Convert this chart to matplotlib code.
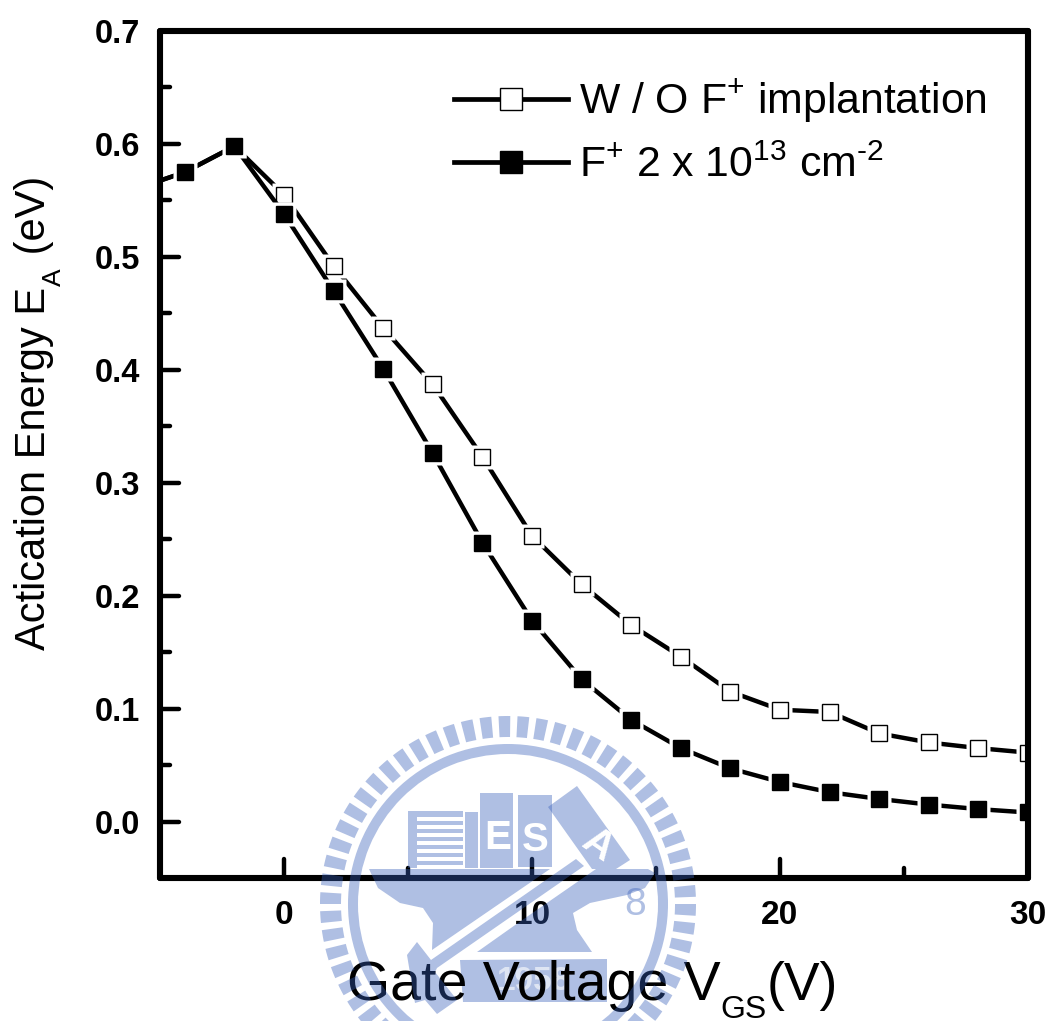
import matplotlib
matplotlib.use('Agg')
import numpy as np
import matplotlib.pyplot as plt
from matplotlib.lines import Line2D
from matplotlib.markers import MarkerStyle, TICKRIGHT, TICKUP
from matplotlib.patches import Polygon, Rectangle, Wedge
from matplotlib.ticker import MultipleLocator

plt.rcParams['font.family'] = ['Liberation Sans', 'DejaVu Sans']
plt.rcParams['mathtext.fontset'] = 'custom'
plt.rcParams['mathtext.rm'] = 'Liberation Sans'
plt.rcParams['mathtext.default'] = 'rm'

W, H = 1048, 1021

vgs = [-6, -4, -2, 0, 2, 4, 6, 8, 10, 12, 14, 16, 18, 20, 22, 24, 26, 28, 30]
ea_no_implant = [0.560, 0.575, 0.598, 0.555, 0.492, 0.437, 0.387, 0.323, 0.253, 0.210,
                 0.174, 0.146, 0.115, 0.099, 0.097, 0.078, 0.070, 0.065, 0.061]
ea_implant = [0.560, 0.575, 0.598, 0.538, 0.470, 0.401, 0.326, 0.247, 0.178, 0.126,
              0.090, 0.065, 0.047, 0.035, 0.026, 0.020, 0.015, 0.011, 0.008]
label_no_implant = r'W / O F$^{+}$ implantation'
label_implant = r'F$^{+}$ 2 x 10$^{13}$ cm$^{\text{-}2}$'

fig = plt.figure(figsize=(W / 100, H / 100), dpi=100)
ax = fig.add_axes([160 / W, 1 - 878 / H, (1028 - 160) / W, (878 - 31) / H])


def draw_series(y, face):
    ax.plot(vgs, y, color='black', lw=3.2, zorder=2)
    ax.plot(vgs, y, ls='none', marker='s', ms=17, mfc='white', mec='none', zorder=2)
    ax.plot(vgs, y, ls='none', marker='s', ms=12, mfc=face, mec='black', mew=1, zorder=2)


draw_series(ea_no_implant, 'white')
draw_series(ea_implant, 'black')

ax.set_xlim(-5, 30)
ax.set_ylim(-0.05, 0.7)
ax.xaxis.set_major_locator(MultipleLocator(10))
ax.xaxis.set_minor_locator(MultipleLocator(5))
ax.yaxis.set_major_locator(MultipleLocator(0.1))
ax.yaxis.set_minor_locator(MultipleLocator(0.05))
ax.tick_params(which='major', direction='in', length=14, width=3.2)
ax.tick_params(which='minor', direction='in', length=7, width=3.2)
ax.tick_params(axis='x', which='major', pad=16, labelsize=24)
ax.tick_params(axis='y', which='major', pad=14.5, labelsize=23.5)
ax.yaxis.set_major_formatter(lambda v, pos: f'{v:.1f}')
for lab in ax.get_xticklabels() + ax.get_yticklabels():
    lab.set_fontweight('bold')
for sp in ax.spines.values():
    sp.set_linewidth(4.4)
    sp.set_capstyle('round')

# rounded tick ends like the original
for t in ax.xaxis.get_major_ticks() + ax.xaxis.get_minor_ticks():
    t.tick1line.set_marker(MarkerStyle(TICKUP, capstyle='round'))
for t in ax.yaxis.get_major_ticks() + ax.yaxis.get_minor_ticks():
    t.tick1line.set_marker(MarkerStyle(TICKRIGHT, capstyle='round'))

handles = [
    Line2D([], [], color='black', lw=3.4, marker='s', ms=15.5, mfc='white', mec='black', mew=1),
    Line2D([], [], color='black', lw=3.4, marker='s', ms=15.5, mfc='black', mec='black', mew=1),
]
ax.legend(handles, [label_no_implant, label_implant], frameon=False, fontsize=30.8,
          loc='upper left', bbox_to_anchor=(0.339, 0.945), handlelength=2.66,
          handletextpad=0.25, labelspacing=0.47, borderpad=0, borderaxespad=0)

# overlay in image pixels: axis titles and the watermark seal
ov = fig.add_axes([0, 0, 1, 1], zorder=10)
ov.set_xlim(0, W)
ov.set_ylim(H, 0)
ov.axis('off')

ov.text(347, 1000, 'Gate Voltage V', fontsize=40, va='baseline', ha='left', zorder=0.5)
ov.text(720, 1018, 'GS', fontsize=23, va='baseline', ha='left', zorder=0.5)
ov.text(767, 1000, '(V)', fontsize=38.5, va='baseline', ha='left', zorder=0.5)

ov.text(45, 650, 'Actication Energy E', fontsize=30, rotation=90, va='baseline', ha='left',
        rotation_mode='anchor', zorder=0.5)
ov.text(61, 286, 'A', fontsize=19, rotation=90, va='baseline', ha='left', rotation_mode='anchor',
        zorder=0.5)
ov.text(45, 266, ' (eV)', fontsize=30, rotation=90, va='baseline', ha='left',
        rotation_mode='anchor', zorder=0.5)

# seal: same blue everywhere, translucent so black shows through as navy
seal = (55 / 255, 95 / 255, 185 / 255)
seal_a = 0.4
cx, cy = 508, 904

for ang in np.arange(62) * 360 / 62:
    ov.add_patch(Wedge((cx, cy), 188, ang, ang + 3.6, width=21, fc=seal, ec='none', alpha=seal_a))
ov.add_patch(Wedge((cx, cy), 160, 0, 360, width=10, fc=seal, ec='none', alpha=seal_a))

shapes = [
    # books
    [(408, 811), (463, 811), (463, 868), (408, 868)],
    [(465, 812), (478, 812), (478, 868), (465, 868)],
    [(480, 793), (513, 793), (513, 868), (480, 868)],
    [(518, 795), (552, 795), (552, 867), (518, 867)],
    [(577, 786), (630, 860), (616, 869), (592, 869), (548, 807)],
    # anvil left of the handle
    [(369, 869), (550, 869), (432, 950), (433, 923), (423, 908), (400, 903), (378, 888)],
    # anvil right of the handle
    [(596, 869), (648, 869), (655, 873), (645, 888), (627, 895), (590, 903), (573, 913),
     (577, 930), (592, 952), (477, 952), (518, 923), (583, 878)],
    # hammer handle and head
    [(576, 859), (584, 866), (437, 968), (435, 972), (457, 1000), (437, 1014), (425, 1000),
     (415, 1003), (407, 955), (417, 942), (431, 960)],
]
for pts in shapes:
    ov.add_patch(Polygon(pts, closed=True, fc=seal, ec='none', alpha=seal_a))

# base with the year, under the axis title
ov.add_patch(Polygon([(460, 960), (607, 959), (607, 1002), (463, 1002)], closed=True, fc=seal,
                     ec='none', alpha=seal_a, zorder=0.2))
ov.text(534, 981, '1958', color='white', alpha=0.6, fontsize=24, fontweight='bold',
        ha='center', va='center', zorder=0.3)

for py in range(817, 867, 8):
    ov.add_patch(Rectangle((417, py), 46, 4, fc='white', ec='none'))
ov.text(498, 838, 'E', color='white', fontsize=29, fontweight='bold', ha='center', va='center')
ov.text(535, 840, 'S', color='white', fontsize=29, fontweight='bold', ha='center', va='center')
ov.text(598, 845, 'A', color='white', fontsize=29, fontweight='bold', ha='center', va='center',
        rotation=-35)
ov.text(635, 905, '8', color=seal, alpha=seal_a, fontsize=28, ha='center', va='center')

fig.savefig('out.png', dpi=100)
